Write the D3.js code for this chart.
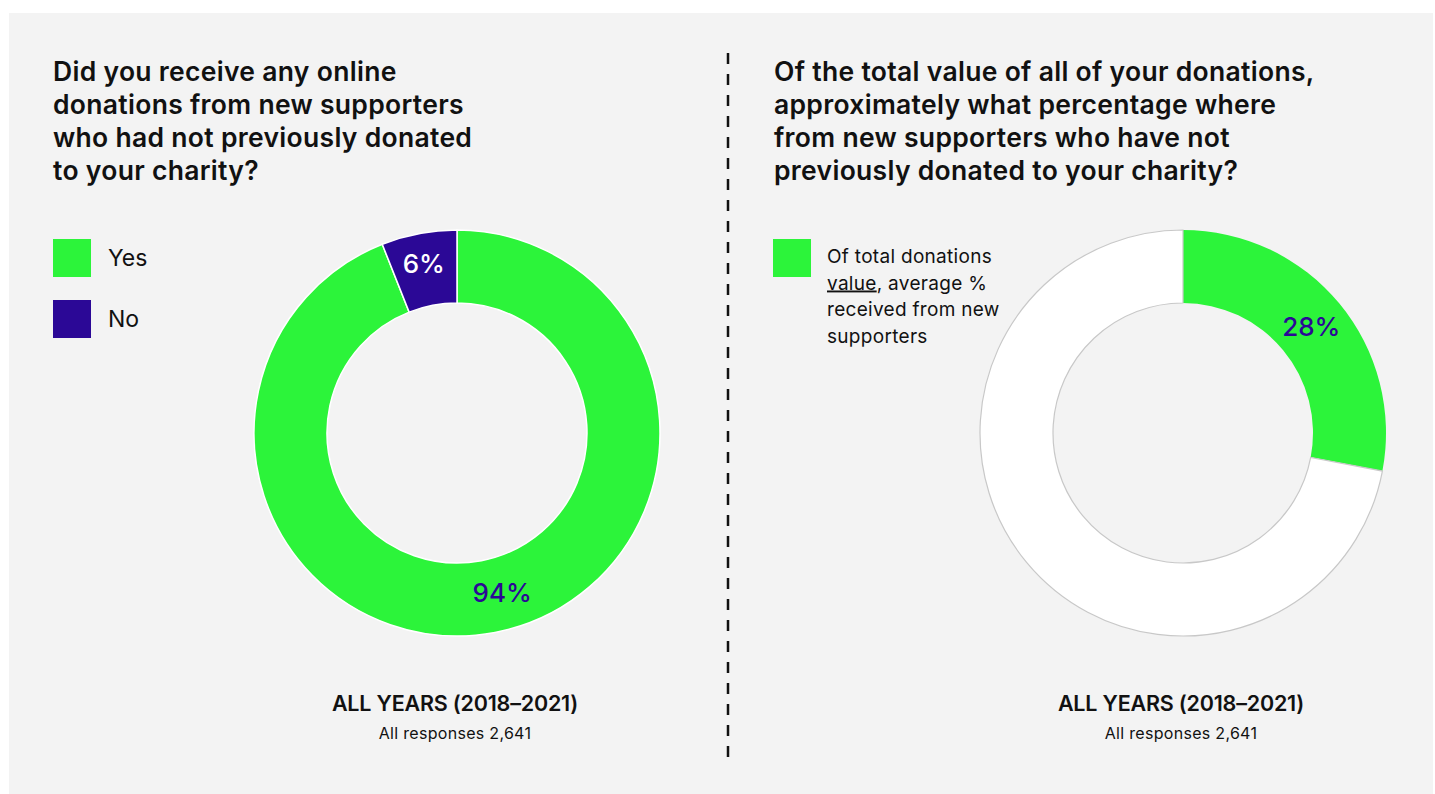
<!DOCTYPE html>
<html>
<head>
<meta charset="utf-8">
<script src="https://cdn.jsdelivr.net/npm/d3@7"></script>
<style>
  html, body { margin: 0; padding: 0; background: #ffffff; }
  svg { display: block; font-family: Inter, "Open Sans", sans-serif; }
</style>
</head>
<body>
<svg id="chart" width="1435" height="794"></svg>
<script>
// Left panel: online donations from new supporters (Yes / No)
const receivedCategories = ["Yes", "No"];
const receivedValues = [94, 6];
const receivedLabels = ["94%", "6%"];

// Right panel: share of total donation value coming from new supporters
const valueCategories = ["New supporters", "Other"];
const valueShares = [28, 72];
const valueLabels = ["28%", ""];

const leftTitle = [
  "Did you receive any online",
  "donations from new supporters",
  "who had not previously donated",
  "to your charity?"
];
const rightTitle = [
  "Of the total value of all of your donations,",
  "approximately what percentage where",
  "from new supporters who have not",
  "previously donated to your charity?"
];
const periodLabel = "ALL YEARS (2018\u20132021)";
const responsesLabel = "All responses 2,641";

const GREEN = "#2cf43a";
const PURPLE = "#2b0896";
const INK = "#111111";

const svg = d3.select("#chart");

// panel background
svg.append("rect")
  .attr("x", 9).attr("y", 13)
  .attr("width", 1424).attr("height", 781)
  .attr("fill", "#f3f3f3");

// dashed divider
svg.append("line")
  .attr("x1", 728).attr("x2", 728)
  .attr("y1", 53).attr("y2", 766)
  .attr("stroke", "#111")
  .attr("stroke-width", 2.5)
  .attr("stroke-dasharray", "11 10");

function drawTitle(lines, x) {
  const t = svg.append("text")
    .attr("x", x).attr("y", 81)
    .attr("fill", INK)
    .attr("font-size", 26.5)
    .attr("font-weight", 600)
    .attr("letter-spacing", "0.3px");
  lines.forEach((line, i) => {
    t.append("tspan").attr("x", x).attr("dy", i === 0 ? 0 : 33).text(line);
  });
}
drawTitle(leftTitle, 53);
drawTitle(rightTitle, 774);

const outerR = 203, innerR = 130;
const arc = d3.arc().innerRadius(innerR).outerRadius(outerR);
const pie = d3.pie().sort(null).value(d => d);

// ---- left donut
const left = svg.append("g").attr("transform", "translate(457,433)");
const leftColor = d3.scaleOrdinal().domain(receivedCategories).range([GREEN, PURPLE]);
const leftArcs = pie(receivedValues);
left.selectAll("path")
  .data(leftArcs)
  .join("path")
  .attr("d", arc)
  .attr("fill", (d, i) => leftColor(receivedCategories[i]))
  .attr("stroke", "#ffffff")
  .attr("stroke-width", 1.5);
left.selectAll("text.val")
  .data(leftArcs)
  .join("text")
  .attr("class", "val")
  .attr("transform", d => {
    const c = arc.centroid(d);
    return `translate(${c[0]},${c[1]})`;
  })
  .attr("dx", (d, i) => i === 0 ? 14 : -2)
  .attr("dy", (d, i) => i === 0 ? -4 : -6)
  .attr("text-anchor", "middle")
  .attr("dominant-baseline", "central")
  .attr("font-size", 26)
  .attr("font-weight", 500)
  .attr("fill", (d, i) => i === 0 ? PURPLE : "#ffffff")
  .text((d, i) => receivedLabels[i]);

// left legend
const legend = svg.append("g");
receivedCategories.forEach((c, i) => {
  const y = 239 + i * 61;
  legend.append("rect")
    .attr("x", 53).attr("y", y)
    .attr("width", 38).attr("height", 38)
    .attr("fill", leftColor(c));
  legend.append("text")
    .attr("x", 108).attr("y", y + 19)
    .attr("dominant-baseline", "central")
    .attr("font-size", 23)
    .attr("fill", INK)
    .text(c);
});

// ---- right donut
const right = svg.append("g").attr("transform", "translate(1183,433)");
const rightArcs = pie(valueShares);
right.selectAll("path")
  .data(rightArcs)
  .join("path")
  .attr("d", arc)
  .attr("fill", (d, i) => i === 0 ? GREEN : "#ffffff")
  .attr("stroke", (d, i) => i === 0 ? "none" : "#c8c8c8")
  .attr("stroke-width", 1.2);
right.selectAll("text.val")
  .data(rightArcs.filter((d, i) => valueLabels[i]))
  .join("text")
  .attr("class", "val")
  .attr("transform", d => {
    const c = arc.centroid(d);
    return `translate(${c[0]},${c[1]})`;
  })
  .attr("text-anchor", "middle")
  .attr("dominant-baseline", "central")
  .attr("font-size", 26)
  .attr("font-weight", 500)
  .attr("fill", PURPLE)
  .text((d, i) => valueLabels[i]);

// right legend
svg.append("rect")
  .attr("x", 773).attr("y", 239)
  .attr("width", 38).attr("height", 38)
  .attr("fill", GREEN);
const lg = svg.append("text")
  .attr("x", 827).attr("y", 263)
  .attr("font-size", 19)
  .attr("letter-spacing", "0.3px")
  .attr("fill", INK);
lg.append("tspan").attr("x", 827).attr("dy", 0).text("Of total donations");
const l2 = lg.append("tspan").attr("x", 827).attr("dy", 26.5);
l2.append("tspan").attr("text-decoration", "underline").text("value");
l2.append("tspan").text(", average %");
lg.append("tspan").attr("x", 827).attr("dy", 26.5).text("received from new");
lg.append("tspan").attr("x", 827).attr("dy", 26.5).text("supporters");

// footers
[455, 1181].forEach(cx => {
  svg.append("text")
    .attr("x", cx).attr("y", 711)
    .attr("text-anchor", "middle")
    .attr("font-size", 21.5)
    .attr("font-weight", 600)
    .attr("letter-spacing", "-0.2px")
    .attr("fill", INK)
    .text(periodLabel);
  svg.append("text")
    .attr("x", cx).attr("y", 739)
    .attr("text-anchor", "middle")
    .attr("font-size", 16)
    .attr("letter-spacing", "0.3px")
    .attr("fill", INK)
    .text(responsesLabel);
});
</script>
</body>
</html>
